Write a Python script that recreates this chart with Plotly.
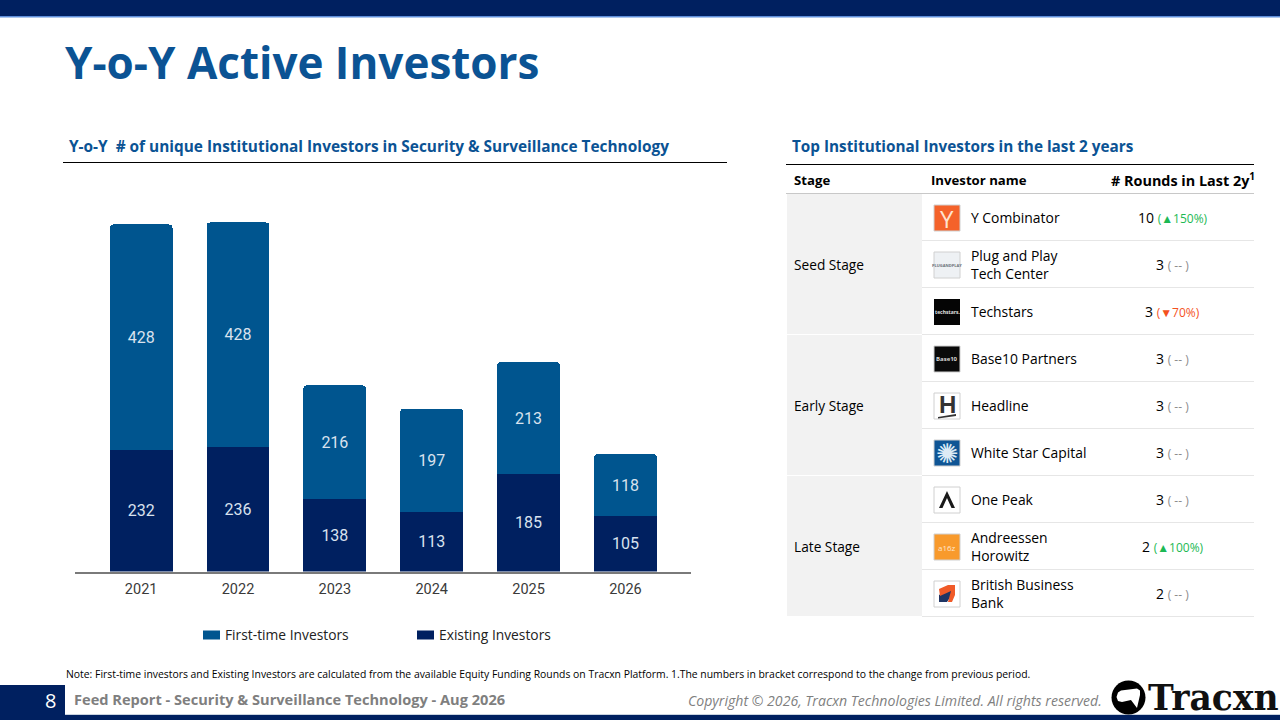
import plotly.graph_objects as go

years = ["2021", "2022", "2023", "2024", "2025", "2026"]
first_time = [428, 428, 216, 197, 213, 118]
existing = [232, 236, 138, 113, 185, 105]
totals = [660, 664, 354, 310, 398, 223]
series_names = ["First-time Investors", "Existing Investors"]

stages = ["Seed Stage", "Early Stage", "Late Stage"]
investors = ["Y Combinator", "Plug and Play<br>Tech Center", "Techstars", "Base10 Partners", "Headline",
             "White Star Capital", "One Peak", "Andreessen<br>Horowitz", "British Business<br>Bank"]
rounds = [10, 3, 3, 3, 3, 3, 3, 2, 2]
changes = ["▲150%", " -- ", "▼70%", " -- ", " -- ", " -- ", " -- ", "▲100%", " -- "]

NAVY = "#002060"
BLUE = "#00558F"
TITLE = "#0B5394"
UI = "Open Sans"
W, H = 1280, 720


def px(x):
    return x / W


def py(y):
    return 1 - y / H


shapes, ann = [], []


def rect(x0, y0, x1, y1, fill, line=None, lw=1, layer="below"):
    shapes.append(dict(type="rect", xref="paper", yref="paper", x0=px(x0), x1=px(x1), y0=py(y0), y1=py(y1),
                       fillcolor=fill, line=dict(color=line or "rgba(0,0,0,0)", width=lw if line else 0), layer=layer))


def hline(x0, x1, y, color, lw=1):
    shapes.append(dict(type="line", xref="paper", yref="paper", x0=px(x0), x1=px(x1), y0=py(y), y1=py(y),
                       line=dict(color=color, width=lw), layer="below"))


def poly(points, fill):
    d = "M" + "L".join(f"{px(a):.5f},{py(b):.5f}" for a, b in points) + "Z"
    shapes.append(dict(type="path", xref="paper", yref="paper", path=d, fillcolor=fill, line=dict(width=0), layer="above"))


def circle(cx, cy, r, fill):
    shapes.append(dict(type="circle", xref="paper", yref="paper", x0=px(cx - r), x1=px(cx + r), y0=py(cy + r), y1=py(cy - r),
                       fillcolor=fill, line=dict(width=0), layer="above"))


def text(x, y, s, size, color="#000000", family=UI, anchor="left", bold=False, italic=False):
    if bold:
        s = f"<b>{s}</b>"
    if italic:
        s = f"<i>{s}</i>"
    shift = {"left": -2, "right": 2, "center": 0}[anchor]
    ann.append(dict(xref="paper", yref="paper", x=px(x), y=py(y), xshift=shift, text=s, showarrow=False, xanchor=anchor, yanchor="middle",
                    align=anchor, font=dict(size=size, color=color, family=family)))


# page furniture
rect(0, 0, W, 16, NAVY)
rect(0, 16, W, 17.5, "#5E8FDB")
rect(0, 685, 65, 715, NAVY)
rect(0, 715, W, 720, NAVY)
hline(65, W, 714.5, "#C9D3E0", 1)
text(65, 62, "Y-o-Y Active Investors", 44, TITLE, bold=True)
text(69, 146.5, "Y-o-Y  # of unique Institutional Investors in Security &amp; Surveillance Technology", 15.4, TITLE, bold=True)
hline(63, 727, 162.5, "#000000", 1)
text(792, 146, "Top Institutional Investors in the last 2 years", 15.3, TITLE, bold=True)
hline(786, 1254, 164.5, "#000000", 1)
text(66, 674, "Note: First-time investors and Existing Investors are calculated from the available Equity Funding Rounds on Tracxn Platform. 1.The numbers in bracket correspond to the change from previous period.", 10.4)
text(50, 700.5, "8", 20, "#FFFFFF", anchor="center")
text(74, 699, "Feed Report - Security &amp; Surveillance Technology - Aug 2026", 14.6, "#7F7F7F", bold=True)
text(1102, 700.5, "Copyright © 2026, Tracxn Technologies Limited. All rights reserved.", 14.1, "#7F7F7F", anchor="right", italic=True)
text(1148, 698, "Tracxn", 34.6, "#111111", family="DejaVu Serif", bold=True)
circle(1128.5, 697.5, 17, "#000000")
poly([(1116.5, 697), (1118, 692.5), (1121, 690.5), (1137, 688.5), (1140, 690.5), (1140, 695), (1137, 708), (1131, 700), (1122, 702), (1118, 701)], "#FFFFFF")

# table
ROW0, ROW_H = 194, 47
text(794, 180, "Stage", 13.2, bold=True)
text(931, 180, "Investor name", 13.2, bold=True)
text(1255, 179, "# Rounds in Last 2y<sup>1</sup>", 14.4, anchor="right", bold=True)
hline(786, 1254, 193.5, "#C8C8C8", 1)
for i, name in enumerate(stages):
    top = ROW0 + 3 * i * ROW_H
    rect(787, top, 922, top + 3 * ROW_H - 1, "#F2F2F2")
    text(794, top + 1.5 * ROW_H - 0.5, name, 13.7)
for i, name in enumerate(investors):
    cy = ROW0 + i * ROW_H + 24
    hline(922, 1254, ROW0 + (i + 1) * ROW_H - 0.5, "#E6E6E6", 1)
    text(971, cy - 0.5, name, 13.9)
    ch = changes[i]
    col = "#1DB954" if "▲" in ch else "#F4511E" if "▼" in ch else "#8C8C8C"
    text(1172.5, cy - 0.5, f"{rounds[i]} <span style=\"font-size:12px;color:{col}\">({ch})</span>", 14, anchor="center")

# logos
LOGO = 934, 960


def logo_box(i, fill, line="#D0D0D0"):
    cy = ROW0 + i * ROW_H + 24
    rect(LOGO[0], cy - 13, LOGO[1], cy + 13, fill, line, 1, layer="above")
    return cy


c = logo_box(0, "#F4622A")
text(947, c, "Y", 24, "#FFE3CF", anchor="center")
c = logo_box(1, "#EEF1F4")
text(947, c, "PLUGANDPLAY", 4, "#6A7078", anchor="center", bold=True)
c = logo_box(2, "#050505", None)
text(947, c, "techstars.", 5, "#E0E0E0", anchor="center", bold=True)
c = logo_box(3, "#0A0A0A")
text(947, c, "Base10", 6, "#D8D8D8", anchor="center", bold=True)
c = logo_box(4, "#FFFFFF")
text(947, c - 2, "H", 24, "#333333", family="Liberation Sans", anchor="center", bold=True)
poly([(938, c + 11), (956, c + 8), (956, c + 10), (938, c + 12.5)], "#333333")
c = logo_box(5, "#0F5595")
text(947, c, "✺", 27, "#DDEBF5", family="DejaVu Sans", anchor="center")
c = logo_box(6, "#FFFFFF")
poly([(947, c - 9), (955, c + 8), (951.5, c + 8), (947, c - 2), (942.5, c + 8), (939, c + 8)], "#1A1A1A")
c = logo_box(7, "#F89A2C")
text(947, c, "a16z", 8, "#FFE6CC", anchor="center")
c = logo_box(8, "#FFFFFF")
poly([(939, c + 8), (939, c + 1), (950, c - 5), (954, c - 2), (947, c + 8)], "#1F3564")
poly([(939, c - 5), (948, c - 9), (955, c - 9), (955, c + 1), (952, c + 8), (948, c + 8), (951, c - 3), (940, c + 2)], "#F05A28")

# chart legend
LEGEND_Y = 635
for name, color, x in zip(series_names, [BLUE, NAVY], [203, 417]):
    rect(x, LEGEND_Y - 4.5, x + 17, LEGEND_Y + 4.5, color)
    text(x + 22, LEGEND_Y - 0.5, name, 13.8, "#222222")

fig = go.Figure()
fig.add_bar(x=years, y=existing, name=series_names[1], marker=dict(color=NAVY, line=dict(width=0)), width=0.65,
            text=existing, textposition="inside", insidetextanchor="middle", textangle=0,
            textfont=dict(family="Roboto", size=16, color="#D9E2EE"))
fig.add_bar(x=years, y=first_time, name=series_names[0], marker=dict(color=BLUE, line=dict(width=0)), width=0.65,
            text=first_time, textposition="inside", insidetextanchor="middle", textangle=0,
            textfont=dict(family="Roboto", size=16, color="#D9E2EE"))
for yr, total in zip(years, totals):
    ann.append(dict(xref="x", yref="y", x=yr, y=total, yshift=26, text=str(total), showarrow=False, xanchor="center", yanchor="middle",
                    font=dict(family="Roboto", size=16, color="#333333")))

fig.update_layout(
    width=W, height=H, autosize=False, margin=dict(l=0, r=0, t=0, b=0, pad=0),
    paper_bgcolor="#FFFFFF", plot_bgcolor="rgba(0,0,0,0)", barmode="stack", barcornerradius=4, showlegend=False,
    shapes=shapes, annotations=ann,
    xaxis=dict(domain=[px(75), px(691)], type="category", range=[-0.683, 5.677], showgrid=False, showline=True,
               linecolor="#7A7A7A", linewidth=1.5, ticks="", tickfont=dict(family="Roboto", size=14.5, color="#3A3A3A"), ticklabelstandoff=3),
    yaxis=dict(domain=[py(571.5), py(180)], range=[0, 744.6], visible=False, showgrid=False, zeroline=False),
)
fig.write_html("out.html", config=dict(displayModeBar=False), post_script="document.body.style.margin='0';document.body.style.overflow='hidden';")
